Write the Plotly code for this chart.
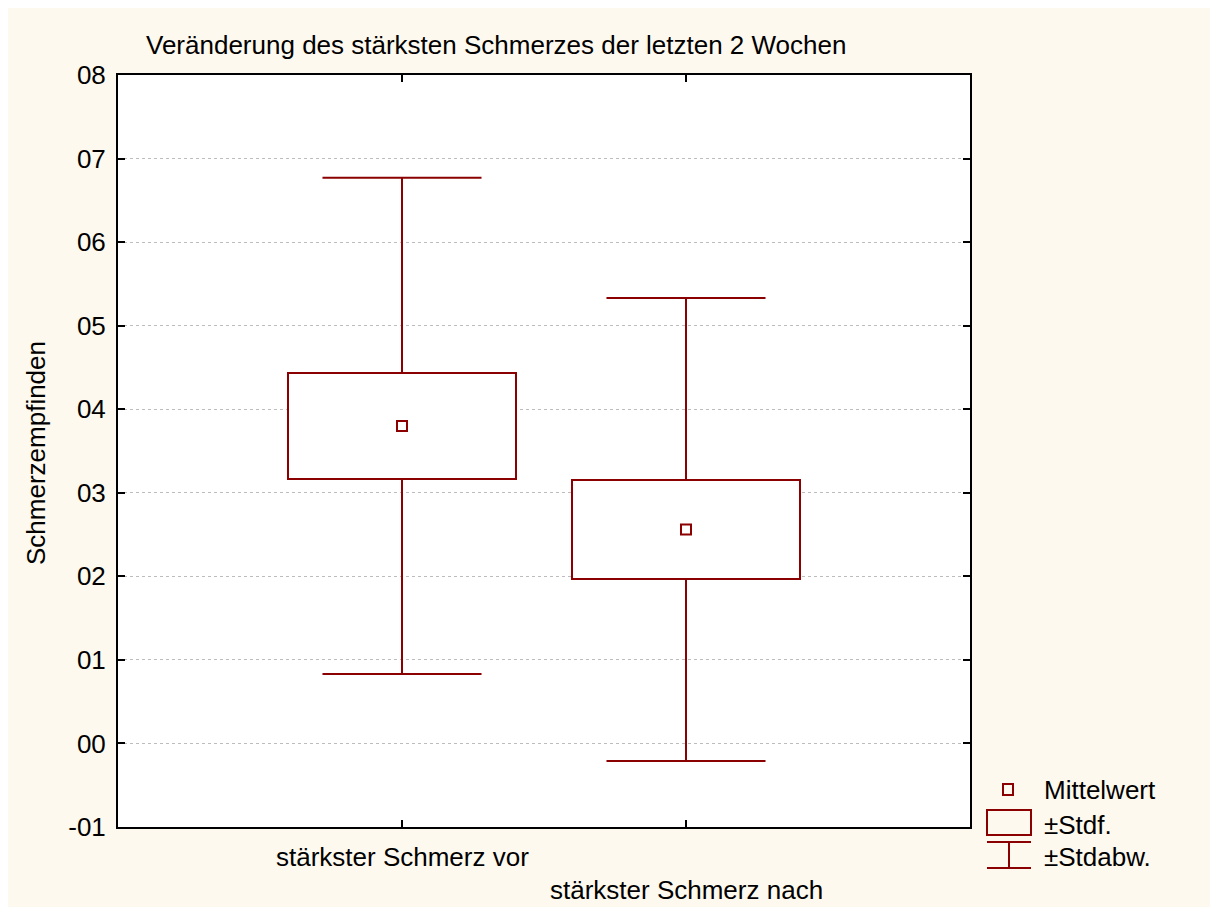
import plotly.graph_objects as go

# ---- data ----
categories = ["stärkster Schmerz vor", "stärkster Schmerz nach"]
means = [3.80, 2.56]
std_err = [0.63, 0.59]
std_dev = [2.97, 2.77]
ytick_vals = [-1, 0, 1, 2, 3, 4, 5, 6, 7, 8]
ytick_text = ["-01", "00", "01", "02", "03", "04", "05", "06", "07", "08"]
title_text = "Veränderung des stärksten Schmerzes der letzten 2 Wochen"
ytitle = "Schmerzempfinden"
legend_labels = ["Mittelwert", "±Stdf.", "±Stdabw."]

# ---- style ----
RED = "#8B0000"
CREAM = "#FEF9EE"
FONT = "Liberation Sans, Arial, sans-serif"
FS = 26
W, H = 1218, 907
OFF = 8  # page body margin
# plot area in page px
PL, PR, PT, PB = 118, 970, 75, 827
L, R, T, B = PL - OFF, PR - OFF, PT - OFF, PB - OFF
BOX_W = 0.8
CAP_HW = 0.28


def px(x):  # page px -> paper x
    return (x - OFF - L) / (R - L)


def py(y):  # page px -> paper y
    return (B - (y - OFF)) / (B - T)


xpos = list(range(len(categories)))

fig = go.Figure()

# boxes (mean ± SE)
fig.add_trace(go.Bar(
    x=xpos,
    y=[2 * s for s in std_err],
    base=[m - s for m, s in zip(means, std_err)],
    width=BOX_W,
    marker=dict(color="white", line=dict(color=RED, width=2)),
    showlegend=False, hoverinfo="skip",
))

# whiskers (mean ± SD) – drawn outside the boxes
wx, wy = [], []
for i, (m, se, sd) in enumerate(zip(means, std_err, std_dev)):
    wx += [i, i, None]
    wy += [m + se, m + sd, None]
    wx += [i, i, None]
    wy += [m - se, m - sd, None]
    wx += [i - CAP_HW, i + CAP_HW, None]
    wy += [m + sd, m + sd, None]
    wx += [i - CAP_HW, i + CAP_HW, None]
    wy += [m - sd, m - sd, None]
fig.add_trace(go.Scatter(
    x=wx, y=wy, mode="lines",
    line=dict(color=RED, width=2),
    showlegend=False, hoverinfo="skip",
))

# means
fig.add_trace(go.Scatter(
    x=xpos, y=means, mode="markers",
    marker=dict(symbol="square-open", size=10, color=RED, line=dict(color=RED, width=2)),
    showlegend=False,
))

shapes = []
# custom legend
shapes.append(dict(type="rect", xref="paper", yref="paper", x0=px(1003), x1=px(1013), y0=py(795), y1=py(784),
                   line=dict(color=RED, width=2), fillcolor="rgba(0,0,0,0)"))
shapes.append(dict(type="rect", xref="paper", yref="paper", x0=px(987), x1=px(1031), y0=py(835), y1=py(810),
                   line=dict(color=RED, width=2), fillcolor="rgba(0,0,0,0)"))
for yy in (842, 868):
    shapes.append(dict(type="line", xref="paper", yref="paper", x0=px(987), x1=px(1031), y0=py(yy), y1=py(yy),
                       line=dict(color=RED, width=2)))
shapes.append(dict(type="line", xref="paper", yref="paper", x0=px(1009), x1=px(1009), y0=py(842), y1=py(868),
                   line=dict(color=RED, width=2)))

txtfont = dict(family=FONT, size=FS, color="black")
annotations = []
for lab, yy in zip(legend_labels, [790, 825, 857]):
    annotations.append(dict(text=lab, xref="paper", yref="paper", x=px(1042), y=py(yy),
                            xanchor="left", yanchor="middle", showarrow=False, font=txtfont))

annotations.append(dict(text=title_text, xref="paper", yref="paper", x=px(144), y=py(45),
                        xanchor="left", yanchor="middle", showarrow=False, font=txtfont))
annotations.append(dict(text=ytitle, xref="paper", yref="paper", x=px(36), y=py(453),
                        xanchor="center", yanchor="middle", textangle=-90, showarrow=False, font=txtfont))
for i, (cat, yy) in enumerate(zip(categories, [857, 890])):
    annotations.append(dict(text=cat, xref="x", yref="paper", x=i, y=py(yy),
                            xanchor="center", yanchor="middle", showarrow=False, font=txtfont))

fig.update_layout(
    width=W, height=H,
    margin=dict(l=L, r=W - R, t=T, b=H - B, pad=0),
    paper_bgcolor=CREAM,
    plot_bgcolor="white",
    font=txtfont,
    shapes=shapes,
    annotations=annotations,
    showlegend=False,
    bargap=0,
)
fig.update_xaxes(
    range=[-1, 2], tickvals=xpos, showticklabels=False,
    ticks="inside", ticklen=7, tickwidth=1.5, tickcolor="black",
    showline=True, linecolor="black", linewidth=2, mirror="allticks",
    showgrid=False, zeroline=False, fixedrange=True,
)
fig.update_yaxes(
    range=[-1, 8], tickvals=ytick_vals, ticktext=ytick_text,
    ticks="inside", ticklen=7, tickwidth=1.5, tickcolor="black",
    showline=True, linecolor="black", linewidth=2, mirror="allticks",
    showgrid=True, gridcolor="#BDBDBD", griddash="dot", gridwidth=1,
    zeroline=False, ticklabelstandoff=5,
    tickfont=txtfont,
)

fig.write_html("out.html")
